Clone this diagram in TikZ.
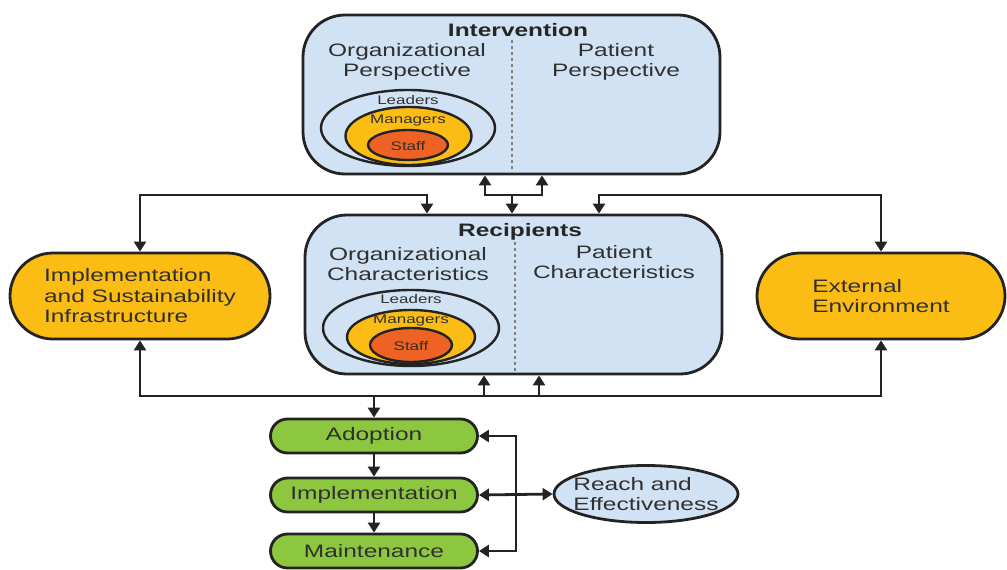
\documentclass[tikz,border=0pt]{standalone}
\usepackage{fontspec}
\setmainfont[FakeStretch=1.36]{Liberation Sans}
\usetikzlibrary{arrows.meta,shapes.geometric}
\definecolor{boxblue}{RGB}{208,226,243}
\definecolor{ovalyellow}{RGB}{251,188,20}
\definecolor{staffred}{RGB}{238,99,35}
\definecolor{stagegreen}{RGB}{141,198,63}
\definecolor{inkgray}{RGB}{35,35,35}
\definecolor{textgray}{RGB}{48,48,48}
\newcommand{\bodyfont}{\fontsize{18}{20.5}\selectfont}
\newcommand{\ringfont}{\fontsize{12.5}{14}\selectfont}
\tikzset{
  diagram/.style={x=1pt, y=-1pt, line width=2.8pt, draw=inkgray,
    >={Triangle[length=10pt,width=12pt]}},
  bigbox/.style={draw=inkgray, fill=boxblue, rounded corners=42pt, inner sep=0pt,
    minimum width=417pt, minimum height=159pt},
  divider/.style={draw=gray, line width=1.4pt, dash pattern=on 3pt off 3pt},
  ring/.style={ellipse, draw=inkgray, line width=2.4pt, inner sep=0pt},
  oval/.style={draw=inkgray, fill=ovalyellow, rounded corners=43pt, inner sep=0pt,
    minimum width=#1, minimum height=86pt, align=left, text=textgray, font=\bodyfont},
  stage/.style={draw=inkgray, fill=stagegreen, rounded corners=17pt, inner sep=0pt,
    minimum width=207pt, minimum height=34pt, text=textgray, font=\bodyfont},
  ttl/.style={font=\bodyfont\bfseries, text=black!85, inner sep=0pt},
  dtext/.style={font=\bodyfont, text=textgray, align=center, inner sep=0pt},
  rlabel/.style={font=\ringfont, text=textgray, inner sep=0pt},
}

\begin{document}
\begin{tikzpicture}[diagram]
  \useasboundingbox (0,0) rectangle (1007,570);
  % intervention, top
  \node[bigbox] (intv) at (511.5,94.5) {};
  \draw[divider] (512,40) -- (512,172);
  \node[ttl] (intvT) at (518,30) {Intervention};
  \node[dtext] (orgP) at (407,62) {Organizational\\Perspective};
  \node[dtext] (patP) at (616,62) {Patient\\Perspective};
  \node[ring, fill=boxblue, minimum width=174pt, minimum height=76pt] (leadA) at (408,128) {};
  \node[ring, fill=ovalyellow, minimum width=126pt, minimum height=58pt] (mgrA) at (408.5,136) {};
  \node[ring, fill=staffred, minimum width=80pt, minimum height=30pt] (stfA) at (408,145) {};
  \node[rlabel] (leadAT) at (408,100) {Leaders};
  \node[rlabel] (mgrAT) at (408,120) {Managers};
  \node[rlabel] (stfAT) at (408,146) {Staff};
  % recipients, middle
  \node[bigbox] (recip) at (513.5,294.5) {};
  \draw[divider] (515,242) -- (515,372);
  \node[ttl] (recipT) at (520,232) {Recipients};
  \node[dtext] (orgC) at (408,264) {Organizational\\Characteristics};
  \node[dtext] (patC) at (614,262) {Patient\\Characteristics};
  \node[ring, fill=boxblue, minimum width=176pt, minimum height=76pt] (leadB) at (411,328) {};
  \node[ring, fill=ovalyellow, minimum width=128pt, minimum height=54pt] (mgrB) at (411,337) {};
  \node[ring, fill=staffred, minimum width=82pt, minimum height=34pt] (stfB) at (411,345) {};
  \node[rlabel] (leadBT) at (411,299) {Leaders};
  \node[rlabel] (mgrBT) at (411,320) {Managers};
  \node[rlabel] (stfBT) at (411,346) {Staff};
  % side ovals
  \node[oval=260pt] (infra) at (140,296) {Implementation\\and Sustainability\\Infrastructure};
  \node[oval=248pt] (env) at (881,296) {External\\Environment};
  % stages and outcome
  \node[stage] (adopt) at (374,436) {Adoption};
  \node[stage] (impl) at (374,495) {Implementation};
  \node[stage] (maint) at (374,551) {Maintenance};
  \node[ellipse, draw=inkgray, fill=boxblue, inner sep=0pt,
    minimum width=184pt, minimum height=57pt] (reach) at (646,494) {};
  \node[dtext, align=left] (reachT) at (reach) {Reach and\\Effectiveness};
  % upper links
  \coordinate (ua) at (485,195);
  \coordinate (ub) at (542,195);
  \coordinate (um) at (512,195);
  \coordinate (dl) at (427,195);
  \coordinate (dr) at (599,195);
  \draw[<->] (ua |- intv.south) -- (ua) -- (ub) -- (ub |- intv.south);
  \draw[->] (um) -- (um |- recip.north);
  \draw[<->] (infra.north) |- (dl) -- (dl |- recip.north);
  \draw[<->] (env.north) |- (dr) -- (dr |- recip.north);
  % lower links
  \coordinate (hb) at (374,396);
  \coordinate (ra) at (484,396);
  \coordinate (rb) at (539,396);
  \draw[<->] (infra.south) |- (hb) -| (env.south);
  \draw[->] (hb) -- (adopt.north);
  \draw[->] (ra) -- (ra |- recip.south);
  \draw[->] (rb) -- (rb |- recip.south);
  \draw[->] (adopt) -- (impl);
  \draw[->] (impl) -- (maint);
  \coordinate (br) at (516,495);
  \draw[<->] (adopt.east) -| (br) |- (maint.east);
  \draw[<->] (impl.east) -- (reach.west);
\end{tikzpicture}
\end{document}
